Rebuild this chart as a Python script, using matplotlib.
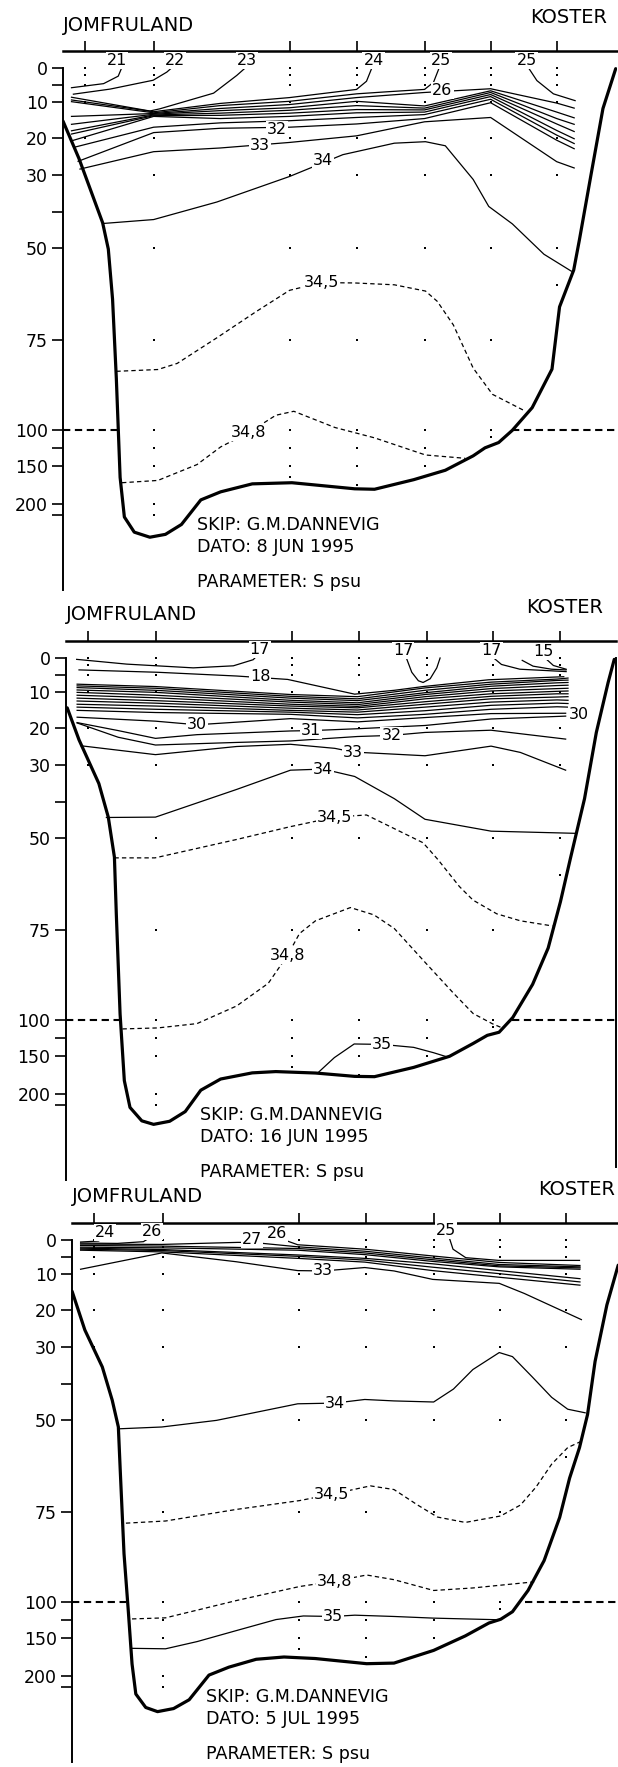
import numpy as np
import matplotlib
matplotlib.use('Agg')
import matplotlib.pyplot as plt
from matplotlib import transforms
from matplotlib.ticker import NullLocator

# --------------------------------------------------
# Stations, sampling depths and axis labels (shared by the three sections)
# --------------------------------------------------
station_km = [0, 14.6, 43.4, 57.6, 72.0, 86.0, 100.0]
station_depths = [
    [0, 2, 5, 10, 20, 30],
    [0, 2, 5, 10, 20, 30, 50, 75, 100, 125, 150, 200, 250],
    [0, 2, 5, 10, 20, 30, 50, 75, 100, 125, 150, 165],
    [0, 2, 5, 10, 20, 30, 50, 75, 100, 125, 150, 175],
    [0, 2, 5, 10, 20, 30, 50, 75, 100, 125, 150],
    [0, 2, 5, 10, 20, 30, 50, 75, 100, 110],
    [0, 2, 5, 10, 20, 30, 50, 60],
]
depth_labels = [0, 10, 20, 30, 50, 75, 100, 150, 200]
depth_minor = [5, 40, 125, 250]
dates = ['8 JUN 1995', '16 JUN 1995', '5 JUL 1995']

# --------------------------------------------------
# Section 1: 8 June 1995  (x = km along section, d = depth in m)
# --------------------------------------------------
p1_bot_x = [-4.6, -1.2, 3.8, 5.0, 5.9, 6.7, 7.5, 8.4, 10.5, 13.8, 17.1, 20.5, 24.6, 28.8, 35.5, 43.9,
            57.2, 61.4, 69.7, 76.4, 82.3, 84.8, 87.7, 90.6, 94.8, 99.0, 100.6, 103.6, 104.8, 107.3, 109.8, 112.5]
p1_bot_d = [15.3, 25.6, 43.0, 50.3, 63.9, 85.7, 165, 259, 328, 351, 338, 293, 194.6, 184, 173.5, 172,
            180, 180.6, 168, 155.6, 135.9, 124.8, 117.4, 100.4, 93.8, 83.1, 66, 56, 47.8, 29.7, 11.8, 0.2]

p1_s21_x = [-2.8, 4.0, 7.1, 8.0]
p1_s21_d = [5.8, 4.6, 2.4, -0.6]
p1_s22_x = [-2.4, 5.4, 14.5, 17.4, 18.8]
p1_s22_d = [7.7, 6.2, 3.6, 1.2, -0.5]
p1_s23_x = [-2.8, 13.8, 15.9, 27.3, 32.2, 34.0]
p1_s23_d = [8.6, 12.5, 11.9, 7.4, 2.2, 0.0]
p1_s24_x = [-2.8, 14.6, 28.7, 43.4, 57.6, 59.7, 60.8]
p1_s24_d = [9.4, 12.7, 10.4, 8.7, 6.3, 3.9, 0.1]
p1_s25a_x = [-2.8, 14.6, 28.7, 43.4, 57.6, 64.0, 72.0, 73.9, 75.0]
p1_s25a_d = [9.9, 13.0, 11.0, 9.8, 7.6, 7.0, 6.3, 4.2, 0.3]
p1_s25b_x = [94.0, 95.8, 99.3, 103.9]
p1_s25b_d = [-0.1, 3.7, 7.6, 9.6]
p1_s26_x = [-2.8, 14.6, 28.7, 43.4, 57.6, 72.0, 86.0, 100.0, 103.7]
p1_s26_d = [14.0, 13.2, 11.8, 10.7, 8.7, 7.2, 6.1, 10.3, 11.7]
p1_s27_x = [-2.8, 14.6, 28.7, 43.4, 57.6, 72.0, 86.0, 100.0, 103.7]
p1_s27_d = [16.2, 13.4, 12.4, 11.6, 9.8, 11.1, 6.7, 12.8, 14.4]
p1_s28_x = [-2.8, 14.6, 28.7, 43.4, 57.6, 72.0, 86.0, 100.0, 103.7]
p1_s28_d = [18.0, 13.6, 13.1, 12.3, 11.0, 11.7, 7.2, 14.6, 16.2]
p1_s29_x = [-2.8, 14.6, 28.7, 43.4, 57.6, 72.0, 86.0, 100.0, 103.7]
p1_s29_d = [18.9, 13.8, 13.7, 13.1, 12.1, 12.2, 7.8, 16.1, 18.2]
p1_s30_x = [-2.6, 14.6, 28.7, 43.4, 57.6, 72.0, 86.0, 100.0, 103.7]
p1_s30_d = [20.7, 14.0, 14.6, 14.0, 13.0, 12.8, 8.4, 17.9, 20.2]
p1_s31_x = [-2.2, 14.6, 28.7, 43.4, 57.6, 72.0, 86.0, 100.0, 103.7]
p1_s31_d = [22.5, 17.0, 15.8, 15.2, 14.3, 13.5, 9.2, 19.2, 21.5]
p1_s32_x = [-1.4, 14.6, 28.7, 43.4, 57.6, 72.0, 86.0, 100.0, 103.7]
p1_s32_d = [26.3, 18.5, 17.3, 17.0, 16.1, 14.6, 10.2, 20.6, 22.9]
p1_s33_x = [-1.0, 14.6, 28.7, 43.4, 57.6, 72.0, 86.0, 100.0, 103.7]
p1_s33_d = [28.4, 23.7, 22.7, 21.2, 19.4, 15.5, 14.3, 26.4, 28.1]
p1_s34_x = [3.8, 14.6, 28.0, 43.4, 54.7, 65.6, 72.2, 76.4, 82.3, 85.6, 90.6, 97.3, 103.1]
p1_s34_d = [43.2, 42.1, 37.3, 30.4, 24.5, 21.4, 21.0, 22.1, 31.2, 38.5, 43.3, 51.7, 56.3]
p1_s345_x = [6.7, 15.5, 19.6, 28.0, 36.3, 43.4, 50.1, 57.2, 65.6, 72.2, 74.7, 78.1, 82.3, 86.4, 93.1]
p1_s345_d = [83.7, 83.2, 81.5, 74.4, 67.3, 61.5, 59.4, 59.5, 60.0, 61.7, 64.5, 70.9, 82.8, 90.1, 94.6]
p1_s348_x = [7.9, 15.5, 23.8, 28.8, 34.7, 40.5, 44.3, 53.0, 61.4, 72.2, 80.6]
p1_s348_d = [172, 169, 148, 123.5, 103.6, 95.9, 94.8, 99.3, 110.9, 134.7, 139.3]

p1_labels = [('21', 6.8, -2.2), ('22', 19.1, -2.2), ('23', 34.3, -2.2), ('24', 61.2, -2.2),
             ('25', 75.4, -2.2), ('25', 93.6, -2.2), ('26', 75.8, 6.6), ('32', 40.7, 17.5),
             ('33', 37.1, 21.9), ('34', 50.5, 26.2), ('34,5', 50.1, 59.4), ('34,8', 34.7, 103.6)]
p1_breaks = [(-4.6, 6.9), (90.6, 112.8)]

# --------------------------------------------------
# Section 2: 16 June 1995
# --------------------------------------------------
p2_bot_x = [-4.3, -1.8, 2.4, 4.4, 5.7, 6.1, 6.9, 7.8, 9.0, 11.5, 14.0, 17.4, 20.7, 24.0, 28.2, 34.9, 39.9,
            48.3, 56.6, 60.8, 69.1, 76.7, 81.7, 84.7, 87.2, 90.1, 94.3, 97.6, 100.2, 102.3, 105.3, 107.8, 110.3, 111.6]
p2_bot_d = [14.4, 23.2, 35.0, 44.2, 55.2, 70.6, 98.3, 182.4, 261, 322, 338, 324, 280, 195, 180.3, 172.2, 170.5,
            172.4, 176.8, 177.2, 165, 150.4, 132.6, 121.3, 117, 99.3, 90.1, 80, 67.3, 55.6, 39.1, 21.2, 7.2, 0.4]

p2_s15_x = [97.1, 98.7, 101.4]
p2_s15_d = [0.2, 2.2, 3.3]
p2_s16_x = [92.1, 94.4, 98.3, 101.4]
p2_s16_d = [0.7, 2.4, 3.3, 3.5]
p2_s17a_x = [-2.3, 8.3, 22.4, 30.9, 35.1, 36.5]
p2_s17a_d = [0.4, 1.8, 2.9, 2.3, 0.5, -1.5]
p2_s17b_x = [67.5, 68.7, 70.1, 71.1, 72.6, 74.0, 74.7]
p2_s17b_d = [-0.2, 4.2, 6.7, 7.2, 6.1, 2.9, 0.0]
p2_s17c_x = [85.8, 87.7, 91.6, 97.3, 101.4]
p2_s17c_d = [-0.3, 1.9, 3.3, 3.7, 4.0]
p2_s18_x = [-1.8, 14.9, 31.6, 42.4, 48.3, 56.6, 65.0, 71.1, 85.0, 100.9]
p2_s18_d = [3.5, 4.2, 5.3, 6.3, 8.1, 10.6, 9.5, 8.4, 6.4, 5.5]
p2_band_x = [-2.2, 14.4, 43.0, 57.2, 71.5, 85.5, 99.5, 101.8]
p2_s19_d = [7.7, 8.4, 10.7, 11.3, 8.8, 7.1, 6.2, 5.9]
p2_s20_d = [8.2, 8.9, 11.2, 11.9, 9.5, 7.7, 6.6, 6.5]
p2_s21_d = [8.7, 9.5, 11.7, 12.4, 10.2, 8.3, 7.3, 7.2]
p2_s22_d = [9.4, 10.1, 12.3, 13.0, 10.7, 9.0, 8.1, 8.0]
p2_s23_d = [10.1, 10.9, 12.8, 13.5, 11.3, 9.7, 9.0, 8.9]
p2_s24_d = [10.9, 11.6, 13.4, 14.0, 11.9, 10.5, 9.8, 9.7]
p2_s25_d = [11.7, 12.4, 13.9, 14.4, 12.7, 11.2, 10.5, 10.5]
p2_s26_d = [12.5, 13.1, 14.5, 15.0, 13.4, 11.9, 11.4, 11.3]
p2_s27_d = [13.4, 13.9, 15.1, 15.6, 14.2, 12.8, 12.2, 12.3]
p2_s28_d = [14.2, 14.8, 15.6, 16.3, 15.2, 13.7, 13.1, 13.2]
p2_s29_d = [15.1, 15.7, 16.2, 17.2, 16.2, 14.8, 14.1, 14.2]
p2_s30_x = [-2.2, 14.4, 23.2, 43.0, 57.2, 71.5, 85.5, 101.3]
p2_s30_d = [17.0, 18.1, 19.1, 17.4, 18.3, 17.1, 16.0, 15.9]
p2_s31_x = [-2.2, 6.5, 14.4, 23.2, 43.0, 47.4, 57.2, 71.5, 85.5, 101.3]
p2_s31_d = [18.5, 20.7, 22.8, 21.8, 20.8, 20.7, 20.2, 19.3, 17.5, 16.7]
p2_s32_x = [-2.2, 6.5, 14.4, 31.6, 43.0, 57.2, 64.4, 71.5, 85.5, 101.3]
p2_s32_d = [18.6, 22.5, 24.6, 23.9, 23.5, 22.3, 22.0, 21.2, 20.6, 23.0]
p2_s33_x = [-1.4, 14.4, 31.6, 43.0, 52.4, 56.3, 71.5, 85.5, 91.7, 101.3]
p2_s33_d = [24.8, 27.2, 25.0, 24.4, 25.5, 26.5, 27.5, 24.9, 26.6, 31.4]
p2_s34_x = [4.0, 14.4, 31.6, 43.0, 49.9, 56.6, 65.0, 71.5, 85.5, 103.3]
p2_s34_d = [44.3, 44.2, 36.6, 31.4, 31.1, 33.1, 39.1, 44.8, 48.1, 48.7]
p2_s345_x = [5.7, 14.3, 31.6, 42.8, 52.4, 59.1, 71.1, 74.2, 78.8, 81.7, 86.7, 91.7, 98.5]
p2_s345_d = [55.4, 55.4, 50.4, 46.9, 44.2, 43.6, 51.3, 55.8, 63.2, 66.9, 70.6, 72.5, 73.9]
p2_s348_x = [7.4, 14.9, 23.2, 31.6, 38.3, 42.4, 44.9, 48.3, 55.7, 60.7, 65.0, 71.6, 77.5, 81.7, 85.8, 87.5]
p2_s348_d = [112.4, 111, 105, 96.1, 89.8, 82.0, 76.0, 72.5, 68.9, 70.9, 74.6, 84.1, 92.5, 98.2, 105.3, 110]
p2_s35_x = [48.9, 52.3, 56.5, 62.4, 69.1, 73.3, 76.2]
p2_s35_d = [171.6, 152.1, 133.3, 133.9, 138, 145.4, 151.2]

p2_labels = [('17', 36.5, -2.4), ('18', 36.6, 5.4), ('17', 66.9, -2.2), ('17', 85.6, -2.2),
             ('15', 96.6, -2.0), ('30', 23.2, 19.1), ('30', 104.2, 16.3), ('31', 47.4, 20.7),
             ('32', 64.4, 22.0), ('33', 56.3, 26.5), ('34', 49.9, 31.1), ('34,5', 52.4, 44.2),
             ('34,8', 42.4, 82.0), ('35', 62.4, 133.9)]
p2_breaks = [(-4.6, 6.95), (90.0, 111.9)]

# --------------------------------------------------
# Section 3: 5 July 1995
# --------------------------------------------------
p3_bot_x = [-4.6, -1.9, 1.8, 3.9, 5.2, 5.6, 6.4, 7.3, 8.1, 8.9, 11.0, 13.5, 16.9, 20.2, 24.4, 28.6, 34.4, 40.3,
            46.9, 57.8, 63.6, 72.0, 78.7, 83.7, 86.2, 88.7, 92.0, 95.4, 98.7, 100.8, 102.9, 104.6, 106.2, 108.7, 111.1]
p3_bot_d = [14.8, 25.4, 35.4, 44.5, 51.9, 63.7, 86.6, 111.8, 184.1, 281.8, 343, 362, 348, 308, 198.8, 188.4, 178, 175,
            177, 183.8, 183, 166.3, 147.1, 129.2, 124, 113.5, 96.8, 88.5, 76.5, 65.8, 57.5, 48.5, 33.9, 18.6, 7.4]

p3_s24_x = [-2.8, 1.0, 2.3]
p3_s24_d = [0.6, 0.3, -0.7]
p3_s25_x = [75.4, 76.1, 78.8, 85.8, 102.9]
p3_s25_d = [-0.3, 2.7, 5.2, 6.0, 6.0]
p3_s26a_x = [-2.8, 5.0, 10.5, 12.0]
p3_s26a_d = [0.9, 1.0, 0.5, -0.8]
p3_s26b_x = [39.5, 41.0, 43.2, 57.4, 71.8, 85.9, 103.0]
p3_s26b_d = [-0.8, 0.3, 1.4, 2.7, 4.7, 6.6, 7.5]
p3_s27_x = [-2.8, 14.4, 30.5, 33.6, 43.2, 57.4, 71.8, 85.9, 103.0]
p3_s27_d = [1.2, 1.3, 0.7, 0.7, 2.0, 3.3, 5.3, 7.2, 7.9]
p3_band_x = [-2.8, 14.4, 43.2, 57.4, 71.8, 85.9, 103.0]
p3_s28_d = [1.6, 1.8, 2.5, 3.8, 5.8, 7.6, 8.2]
p3_s29_d = [2.1, 2.3, 3.0, 4.3, 6.3, 7.9, 8.6]
p3_s30_d = [2.4, 2.8, 4.4, 5.4, 7.0, 9.0, 11.3]
p3_s31_d = [2.7, 3.1, 4.8, 5.9, 8.0, 9.9, 12.2]
p3_s32_d = [3.0, 3.5, 5.4, 6.5, 9.0, 10.9, 13.1]
p3_s33_x = [-2.8, 14.4, 30.2, 43.2, 48.6, 57.4, 63.6, 71.8, 85.9, 91.2, 103.3]
p3_s33_d = [8.6, 3.8, 6.4, 9.0, 9.1, 8.1, 9.1, 11.5, 12.6, 15.4, 22.6]
p3_s34_x = [5.2, 14.4, 26.0, 43.2, 51.1, 57.4, 63.6, 72.0, 76.2, 80.3, 85.9, 88.7, 92.9, 97.0, 100.4, 104.1]
p3_s34_d = [52.4, 51.9, 50.1, 45.5, 45.3, 44.3, 44.7, 45.0, 41.4, 36.1, 31.5, 32.6, 38.1, 43.7, 47.0, 48.0]
p3_s345_x = [6.8, 15.2, 30.2, 43.6, 50.3, 58.6, 63.6, 68.6, 72.8, 78.7, 86.2, 90.4, 93.7, 97.0, 100.4, 103.6]
p3_s345_d = [78.1, 77.5, 74.3, 71.9, 70.2, 67.9, 68.9, 73.1, 76.4, 77.9, 76.1, 73.1, 68.2, 62.0, 57.5, 55.6]
p3_s348_x = [8.1, 15.2, 30.2, 43.6, 51.1, 57.8, 63.6, 72.0, 80.3, 88.7, 93.3]
p3_s348_d = [123.5, 122, 99.6, 95.7, 94.2, 92.5, 93.8, 96.8, 96.1, 95.0, 94.4]
p3_s35_x = [8.1, 15.2, 21.9, 30.2, 38.6, 44.4, 50.7, 55.3, 63.6, 72.0, 85.4]
p3_s35_d = [163.6, 164.2, 154.7, 139.7, 124.4, 119.4, 120.1, 118.3, 120.1, 122.4, 124.6]

p3_labels = [('24', 2.3, -2.1), ('26', 12.3, -2.5), ('27', 33.6, -0.2), ('26', 38.8, -1.9),
             ('25', 74.6, -2.8), ('33', 48.6, 9.1), ('34', 51.1, 45.3), ('34,5', 50.3, 70.2),
             ('34,8', 51.1, 94.2), ('35', 50.7, 120.1)]
p3_breaks = [(-4.6, 6.9), (91.4, 111.1)]

# --------------------------------------------------
# Broken depth axis: piecewise linear depth -> pixel scale
# --------------------------------------------------
KNOT_D = [-40, 0, 10, 20, 30, 40, 50, 75, 100, 125, 150, 200, 250, 1000]
KNOT_P = [-136, 0, 34, 70, 107, 144, 180, 272, 362, 380, 398, 436, 447, 612]


def fwd(d):
    return np.interp(d, KNOT_D, KNOT_P)


def inv(p):
    return np.interp(p, KNOT_P, KNOT_D)


W, H = 618, 1767
PX_PER_KM = 4.72

panels = [
    dict(date=dates[0], bottom=(p1_bot_x, p1_bot_d),
         solid=[(p1_s21_x, p1_s21_d), (p1_s22_x, p1_s22_d), (p1_s23_x, p1_s23_d), (p1_s24_x, p1_s24_d),
                (p1_s25a_x, p1_s25a_d), (p1_s25b_x, p1_s25b_d), (p1_s26_x, p1_s26_d), (p1_s27_x, p1_s27_d),
                (p1_s28_x, p1_s28_d), (p1_s29_x, p1_s29_d), (p1_s30_x, p1_s30_d), (p1_s31_x, p1_s31_d),
                (p1_s32_x, p1_s32_d), (p1_s33_x, p1_s33_d), (p1_s34_x, p1_s34_d)],
         dashed=[(p1_s345_x, p1_s345_d), (p1_s348_x, p1_s348_d)],
         labels=p1_labels, breaks=p1_breaks,
         zero_px=68, st0_px=84.7, right_px=617, koster_x=110.7, right_line=False),
    dict(date=dates[1], bottom=(p2_bot_x, p2_bot_d),
         solid=[(p2_s15_x, p2_s15_d), (p2_s16_x, p2_s16_d), (p2_s17a_x, p2_s17a_d), (p2_s17b_x, p2_s17b_d),
                (p2_s17c_x, p2_s17c_d), (p2_s18_x, p2_s18_d),
                (p2_band_x, p2_s19_d), (p2_band_x, p2_s20_d), (p2_band_x, p2_s21_d), (p2_band_x, p2_s22_d),
                (p2_band_x, p2_s23_d), (p2_band_x, p2_s24_d), (p2_band_x, p2_s25_d), (p2_band_x, p2_s26_d),
                (p2_band_x, p2_s27_d), (p2_band_x, p2_s28_d), (p2_band_x, p2_s29_d),
                (p2_s30_x, p2_s30_d), (p2_s31_x, p2_s31_d), (p2_s32_x, p2_s32_d), (p2_s33_x, p2_s33_d),
                (p2_s34_x, p2_s34_d), (p2_s35_x, p2_s35_d)],
         dashed=[(p2_s345_x, p2_s345_d), (p2_s348_x, p2_s348_d)],
         labels=p2_labels, breaks=p2_breaks,
         zero_px=658, st0_px=87.5, right_px=616, koster_x=109.2, right_line=True),
    dict(date=dates[2], bottom=(p3_bot_x, p3_bot_d),
         solid=[(p3_s24_x, p3_s24_d), (p3_s25_x, p3_s25_d), (p3_s26a_x, p3_s26a_d), (p3_s26b_x, p3_s26b_d),
                (p3_s27_x, p3_s27_d), (p3_band_x, p3_s28_d), (p3_band_x, p3_s29_d), (p3_band_x, p3_s30_d),
                (p3_band_x, p3_s31_d), (p3_band_x, p3_s32_d), (p3_s33_x, p3_s33_d), (p3_s34_x, p3_s34_d),
                (p3_s35_x, p3_s35_d)],
         dashed=[(p3_s345_x, p3_s345_d), (p3_s348_x, p3_s348_d)],
         labels=p3_labels, breaks=p3_breaks,
         zero_px=1240, st0_px=93.8, right_px=618, koster_x=110.4, right_line=False),
]

fig = plt.figure(figsize=(W / 100, H / 100), dpi=100)

for p in panels:
    left = p['st0_px'] - 21.7
    top = p['zero_px'] - 75
    h = 597
    w = p['right_px'] - left
    ax = fig.add_axes([left / W, 1 - (top + h) / H, w / W, h / H])
    ax.set_facecolor('none')  # panels overlap a little, keep them see-through
    ax.set_yscale('function', functions=(fwd, inv))
    ax.set_xlim(-4.6, -4.6 + w / PX_PER_KM)
    d_bottom = inv(522)
    ax.set_ylim(d_bottom, inv(-75))

    # isohalines
    for x, d in p['solid']:
        ax.plot(x, d, color='k', lw=0.9, solid_joinstyle='round', zorder=2)
    for x, d in p['dashed']:
        ax.plot(x, d, color='k', lw=0.9, ls=(0, (3.5, 2.5)), zorder=2)

    # bottom topography
    bx, bd = p['bottom']
    ax.plot(bx, bd, color='k', lw=2.3, solid_joinstyle='round', solid_capstyle='round', zorder=4)

    # 100 m scale break
    for x0, x1 in p['breaks']:
        ax.plot([x0, x1], [100, 100], color='k', lw=1.5, ls=(0, (3.5, 2.2)), zorder=3)

    # sampling points
    for sx, sd in zip(station_km, station_depths):
        ax.plot([sx] * len(sd), sd, ls='none', marker='s', ms=1.5, mew=0, color='k', zorder=3)

    # contour labels
    for txt, lx, ld in p['labels']:
        ax.text(lx, ld, txt, ha='center', va='center', fontsize=11.5, zorder=6,
                bbox=dict(boxstyle='square,pad=0.06', fc='white', ec='none'))

    # axes frame
    for side in ['bottom', 'right']:
        ax.spines[side].set_visible(False)
    if p['right_line']:
        ax.spines['right'].set_visible(True)
        ax.spines['right'].set_bounds(0, inv(509))
        ax.spines['right'].set_linewidth(1.4)
    ax.spines['top'].set_position(('data', -5))
    ax.spines['top'].set_linewidth(1.8)
    ax.spines['left'].set_bounds(0, d_bottom)
    ax.spines['left'].set_linewidth(1.4)

    ax.xaxis.set_ticks_position('top')
    ax.set_xticks(station_km)
    ax.xaxis.set_minor_locator(NullLocator())
    ax.tick_params(axis='x', direction='out', length=7, width=1.2, labeltop=False, labelbottom=False)

    ax.yaxis.set_ticks_position('left')
    ax.set_yticks(depth_labels)
    ax.set_yticklabels([str(v) for v in depth_labels])
    ax.set_yticks(depth_minor, minor=True)
    ax.tick_params(axis='y', which='both', direction='out', length=8, width=1.2, labelsize=12.5, pad=3)

    # place names and cruise notes
    ax.text(-4.6, inv(-37.5), 'JOMFRULAND', fontsize=14, ha='left', va='baseline')
    ax.text(p['koster_x'], inv(-45), 'KOSTER', fontsize=14, ha='right', va='baseline')
    tr = transforms.blended_transform_factory(ax.transData, ax.transAxes)
    ax.text(23.8, (522 - 462) / h, 'SKIP: G.M.DANNEVIG', transform=tr, fontsize=12.6, va='baseline')
    ax.text(23.8, (522 - 484) / h, 'DATO: ' + p['date'], transform=tr, fontsize=12.6, va='baseline')
    ax.text(23.8, (522 - 519) / h, 'PARAMETER: S psu', transform=tr, fontsize=12.6, va='baseline')

fig.savefig('out.png', dpi=100)
